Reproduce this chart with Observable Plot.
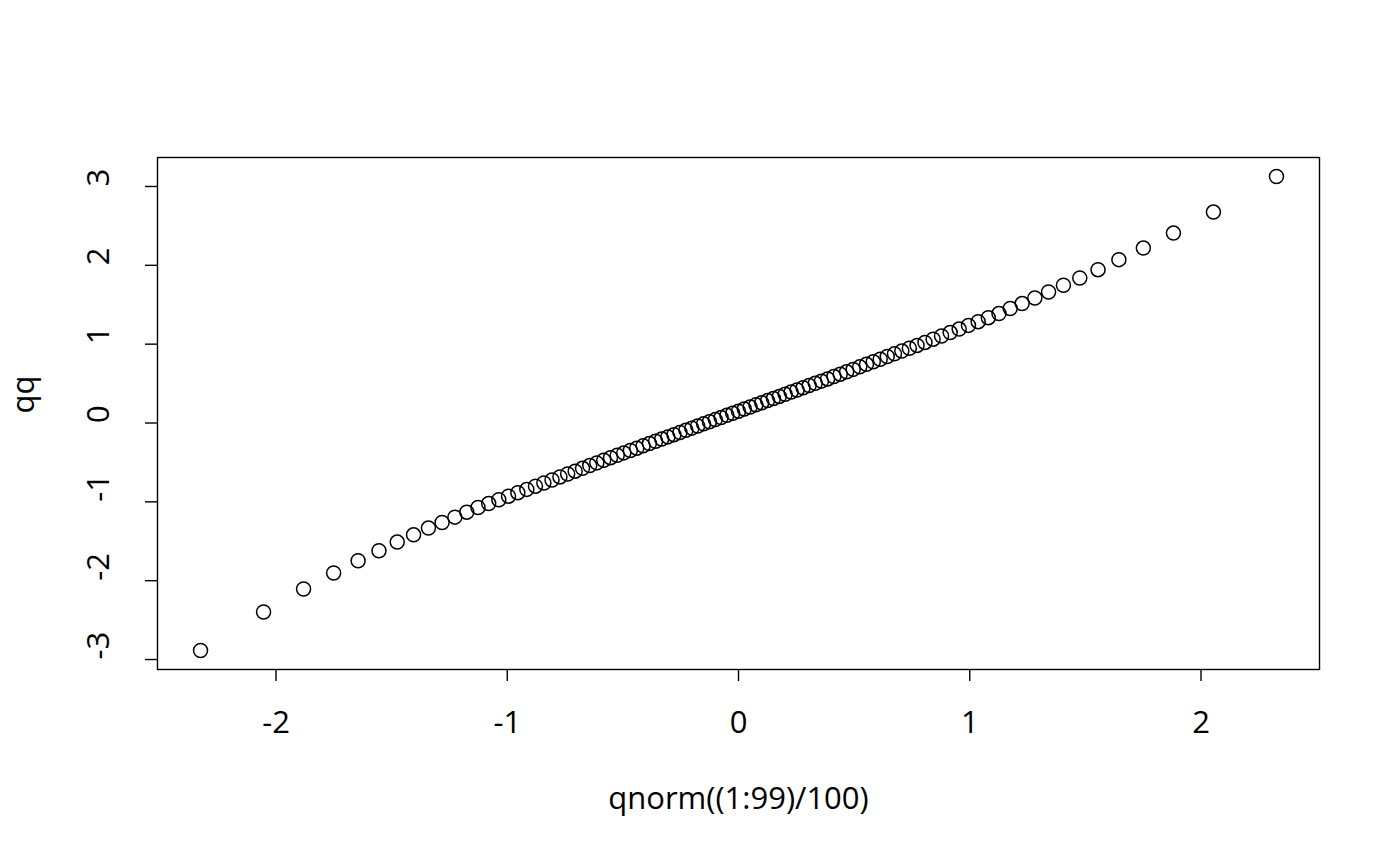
<!DOCTYPE html>
<html>
<head>
<meta charset="utf-8">
<script src="https://cdn.jsdelivr.net/npm/d3@7"></script>
<script src="https://cdn.jsdelivr.net/npm/@observablehq/plot@0.6"></script>
<style>
  body { margin: 0; background: #fff; }
  #chart svg { display: block; }
</style>
</head>
<body>
<div id="chart"></div>
<script>
// x: qnorm((1:99)/100), y: qq
const xs = [
  -2.3263, -2.0537, -1.8808, -1.7507, -1.6449, -1.5548, -1.4758, -1.4051, -1.3408, -1.2816,
  -1.2265, -1.1750, -1.1264, -1.0803, -1.0364, -0.9945, -0.9542, -0.9154, -0.8779, -0.8416,
  -0.8064, -0.7722, -0.7388, -0.7063, -0.6745, -0.6433, -0.6128, -0.5828, -0.5534, -0.5244,
  -0.4959, -0.4677, -0.4399, -0.4125, -0.3853, -0.3585, -0.3319, -0.3055, -0.2793, -0.2533,
  -0.2275, -0.2019, -0.1764, -0.1510, -0.1257, -0.1004, -0.0753, -0.0502, -0.0251, 0,
  0.0251, 0.0502, 0.0753, 0.1004, 0.1257, 0.1510, 0.1764, 0.2019, 0.2275, 0.2533,
  0.2793, 0.3055, 0.3319, 0.3585, 0.3853, 0.4125, 0.4399, 0.4677, 0.4959, 0.5244,
  0.5534, 0.5828, 0.6128, 0.6433, 0.6745, 0.7063, 0.7388, 0.7722, 0.8064, 0.8416,
  0.8779, 0.9154, 0.9542, 0.9945, 1.0364, 1.0803, 1.1264, 1.1750, 1.2265, 1.2816,
  1.3408, 1.4051, 1.4758, 1.5548, 1.6449, 1.7507, 1.8808, 2.0537, 2.3263
]
const qq = [
  -2.886, -2.397, -2.105, -1.903, -1.747, -1.620, -1.510, -1.418, -1.333, -1.262,
  -1.194, -1.131, -1.072, -1.022, -0.974, -0.928, -0.884, -0.842, -0.801, -0.761,
  -0.723, -0.684, -0.647, -0.611, -0.575, -0.540, -0.506, -0.472, -0.440, -0.409,
  -0.379, -0.349, -0.319, -0.290, -0.261, -0.232, -0.204, -0.176, -0.148, -0.120,
  -0.092, -0.065, -0.038, -0.011, 0.016, 0.043, 0.070, 0.097, 0.123, 0.150,
  0.177, 0.203, 0.230, 0.257, 0.284, 0.310, 0.337, 0.365, 0.392, 0.419,
  0.447, 0.475, 0.503, 0.531, 0.559, 0.589, 0.619, 0.649, 0.680, 0.712,
  0.744, 0.776, 0.809, 0.843, 0.877, 0.912, 0.948, 0.984, 1.022, 1.063,
  1.104, 1.147, 1.191, 1.238, 1.285, 1.336, 1.388, 1.452, 1.515, 1.586,
  1.662, 1.747, 1.839, 1.945, 2.072, 2.219, 2.409, 2.675, 3.127
]
const xTicks = [-2, -1, 0, 1, 2]
const yTicks = [-3, -2, -1, 0, 1, 2, 3]
const xLabel = "qnorm((1:99)/100)"
const yLabel = "qq"

const data = xs.map((x, i) => ({x, y: qq[i]}))

// R pads the data range by 4% on each side
const pad = (lo, hi) => [lo - 0.04 * (hi - lo), hi + 0.04 * (hi - lo)]

const fs = 31

const chart = Plot.plot({
  width: 1400,
  height: 866,
  marginLeft: 157,
  marginRight: 81,
  marginTop: 157,
  marginBottom: 197,
  style: {fontFamily: "Open Sans", fontSize: fs + "px", background: "#fff", color: "#000"},
  x: {domain: pad(d3.min(xs), d3.max(xs))},
  y: {domain: pad(d3.min(qq), d3.max(qq))},
  marks: [
    Plot.frame({stroke: "#000", strokeWidth: 1.4}),
    Plot.axisX({ticks: xTicks, tickSize: 12, tickFormat: () => "", label: null, strokeWidth: 1.4}),
    Plot.axisY({ticks: yTicks, tickSize: 12, tickFormat: () => "", label: null, strokeWidth: 1.4}),
    Plot.text(xTicks, {x: d => d, text: d => String(d), frameAnchor: "bottom", dy: 63, fontSize: fs}),
    Plot.text(yTicks, {y: d => d, text: d => String(d), frameAnchor: "left", dx: -58, rotate: -90, fontSize: fs}),
    Plot.text([xLabel], {text: d => d, frameAnchor: "bottom", dy: 139, fontSize: fs}),
    Plot.text([yLabel], {text: d => d, frameAnchor: "left", dx: -133, rotate: -90, fontSize: fs}),
    Plot.dot(data, {x: "x", y: "y", r: 7, stroke: "#000", strokeWidth: 1.5, fill: "none"})
  ]
})

d3.select('#chart').append(() => chart)
</script>
</body>
</html>
